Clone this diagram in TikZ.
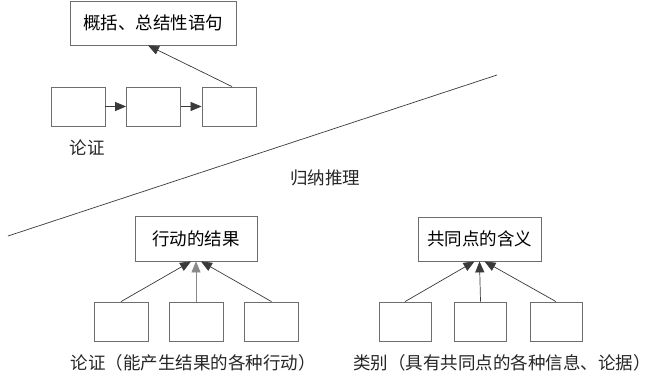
\documentclass[tikz,border=0pt]{standalone}
\usepackage{fontspec}
\setmainfont{Noto Sans CJK SC}
\usetikzlibrary{arrows.meta}
\definecolor{lineGray}{HTML}{3A3A3A}
\definecolor{boxGray}{HTML}{6E6E6E}
\tikzset{
  box/.style={draw=boxGray, line width=0.8pt, fill=white, inner sep=0pt, font=\fontsize{17.5}{20}\selectfont},
  blank/.style={box, minimum width=54pt, minimum height=39pt},
  link/.style={lineGray, line width=0.7pt, -{Triangle[length=11pt,width=9pt]}},
  caption/.style={font=\fontsize{17.5}{20}\selectfont, text=black!85}
}

\begin{document}
\begin{tikzpicture}[x=1pt, y=-1pt]
  \useasboundingbox[fill=white] (0,0) rectangle (652,390);
  % top part
  \node[box, minimum width=166pt, minimum height=44pt] (sum) at (153,23) {概括、总结性语句};
  \node[blank] (s1) at (78,106.5) {};
  \node[blank] (s2) at (153.5,106.5) {};
  \node[blank] (s3) at (229,106.5) {};
  \node[caption] (lunzheng) at (87,148) {论证};
  \draw[link] (s1) -- (s2);
  \draw[link] (s2) -- (s3);
  \draw[link] ([xshift=3pt]s3.north) -- ([xshift=-5pt]sum.south);
  % divider
  \coordinate (cutA) at (8,236);
  \coordinate (cutB) at (497,75);
  \draw[lineGray, line width=0.7pt] (cutA) -- (cutB);
  \node[caption] (guina) at (325,178) {归纳推理};
  % left group
  \node[box, minimum width=122pt, minimum height=45pt] (result) at (196,238.5) {行动的结果};
  \node[blank] (a1) at (121,321.5) {};
  \node[blank] (a2) at (196,321.5) {};
  \node[blank] (a3) at (271.5,321.5) {};
  \draw[link] (a1.north) -- ([xshift=-5pt]result.south);
  \draw[link, lineGray!60] (a2.north) -- (result.south);
  \draw[link] (a3.north) -- ([xshift=5pt]result.south);
  \node[caption] (actions) at (193,363) {论证（能产生结果的各种行动）};
  % right group
  \node[box, minimum width=123pt, minimum height=44pt] (common) at (479.5,239) {共同点的含义};
  \node[blank, minimum width=52pt] (c1) at (405,321.5) {};
  \node[blank, minimum width=52pt] (c2) at (480.5,321.5) {};
  \node[blank, minimum width=52pt] (c3) at (556,321.5) {};
  \draw[link] (c1.north) -- ([xshift=-5pt]common.south);
  \draw[link] (c2.north) -- (common.south);
  \draw[link] (c3.north) -- ([xshift=5pt]common.south);
  \node[caption] (kinds) at (502,363) {类别（具有共同点的各种信息、论据）};
\end{tikzpicture}
\end{document}
